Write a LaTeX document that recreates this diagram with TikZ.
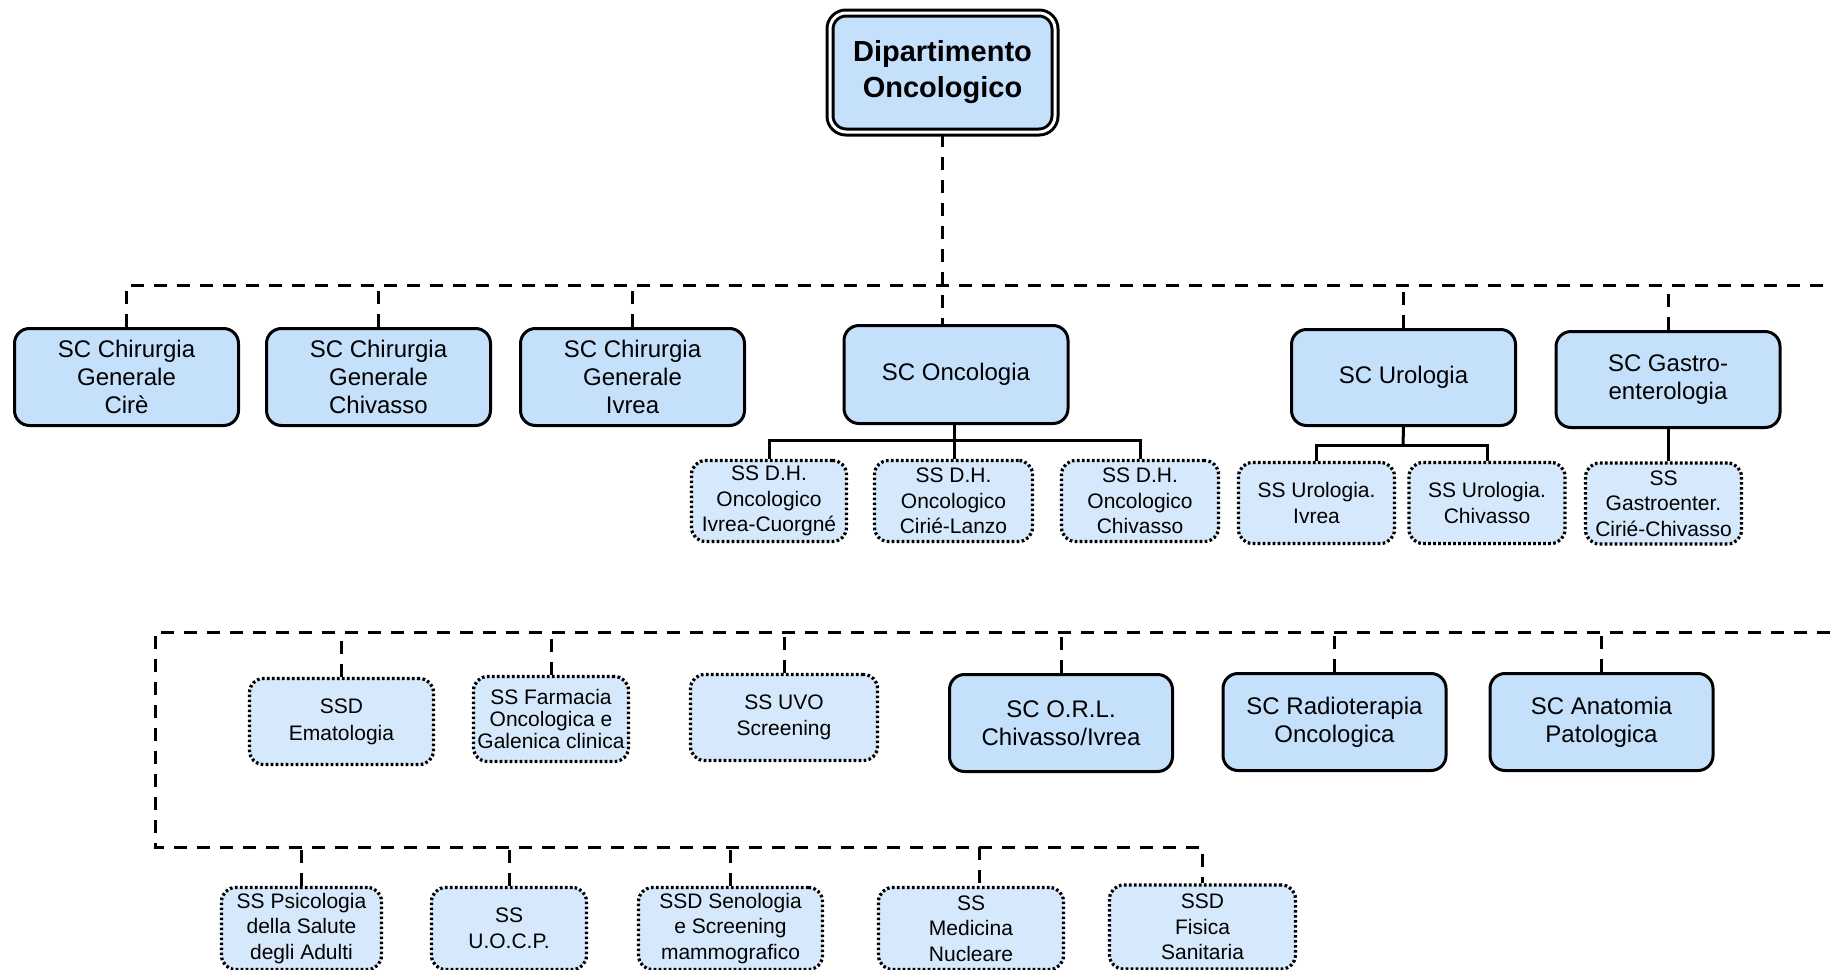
\documentclass[tikz,border=0pt]{standalone}
\usepackage{fontspec}
\setmainfont{Liberation Sans}
\definecolor{scfill}{RGB}{197,224,251}
\definecolor{ssfill}{RGB}{214,233,252}
\begin{document}
\begin{tikzpicture}[x=0.5pt,y=-0.5pt,
  scbox/.style={draw=black, line width=1.5pt, fill=scfill, rounded corners=7.5pt, align=center, inner sep=1pt, font=\fontsize{12}{14.2}\selectfont},
  topbox/.style={draw=black, line width=1.5pt, double=white, double distance=1.5pt, fill=scfill, rounded corners=8pt, align=center, inner sep=1pt, font=\fontsize{14.5}{18}\selectfont\bfseries},
  ssbox/.style={draw=black, line width=1.6pt, dash pattern=on 1.3pt off 1.2pt, fill=ssfill, rounded corners=7pt, align=center, inner sep=1pt, font=\fontsize{10.5}{12.8}\selectfont},
  bus/.style={line width=1.5pt, dash pattern=on 6.5pt off 5pt},
  link/.style={line width=1.5pt}
]
\useasboundingbox (0,0) rectangle (1830,969);

% top
\node[topbox, minimum width=112.5pt, minimum height=59.5pt] (top) at (942.5,72.5) {Dipartimento\\Oncologico};

% row 1 SC
\node[scbox, minimum width=112pt, minimum height=48.5pt] (c1) at (126.5,377) {SC Chirurgia\\Generale\\Cirè};
\node[scbox, minimum width=112pt, minimum height=48.5pt] (c2) at (378.5,377) {SC Chirurgia\\Generale\\Chivasso};
\node[scbox, minimum width=112pt, minimum height=48.5pt] (c3) at (632.5,377) {SC Chirurgia\\Generale\\Ivrea};
\node[scbox, minimum width=112pt, minimum height=49pt] (onc) at (956,374.5) {SC Oncologia};
\node[scbox, minimum width=112pt, minimum height=48pt] (uro) at (1403.5,377.5) {SC Urologia};
\node[scbox, minimum width=112pt, minimum height=48pt] (gas) at (1668,379.5) {SC Gastro-\\enterologia};

% row 1 subs
\node[ssbox, minimum width=77.5pt, minimum height=40.5pt] (dh1) at (769,501) {SS D.H.\\Oncologico\\Ivrea-Cuorgné};
\node[ssbox, minimum width=79pt, minimum height=40.5pt] (dh2) at (953.5,501) {SS D.H.\\Oncologico\\Cirié-Lanzo};
\node[ssbox, minimum width=78.5pt, minimum height=40.5pt] (dh3) at (1140,501) {SS D.H.\\Oncologico\\Chivasso};
\node[ssbox, minimum width=78pt, minimum height=40.5pt] (su1) at (1316.5,503) {SS Urologia.\\Ivrea};
\node[ssbox, minimum width=78pt, minimum height=40.5pt] (su2) at (1487,503) {SS Urologia.\\Chivasso};
\node[ssbox, minimum width=78pt, minimum height=40.5pt] (sg) at (1663.5,503.5) {SS\\Gastroenter.\\Cirié-Chivasso};

% row 2
\node[ssbox, font=\fontsize{10.5}{13.5}\selectfont, minimum width=92pt, minimum height=43pt] (em) at (341.5,721.5) {SSD\\Ematologia};
\node[ssbox, font=\fontsize{10.5}{11.2}\selectfont, minimum width=77.5pt, minimum height=42.5pt] (fa) at (551,719) {SS Farmacia\\Oncologica e\\Galenica clinica};
\node[ssbox, minimum width=93.5pt, minimum height=43pt] (uvo) at (784,717.5) {SS UVO\\Screening};
\node[scbox, minimum width=111.5pt, minimum height=48.5pt] (orl) at (1061,723) {SC O.R.L.\\Chivasso/Ivrea};
\node[scbox, minimum width=111.5pt, minimum height=48.5pt] (rad) at (1334.5,722) {SC Radioterapia\\Oncologica};
\node[scbox, minimum width=111.5pt, minimum height=48.5pt] (ana) at (1601.5,722) {SC Anatomia\\Patologica};

% bottom row
\node[ssbox, minimum width=80pt, minimum height=41pt] (ps) at (301.5,928.5) {SS Psicologia\\della Salute\\degli Adulti};
\node[ssbox, minimum width=77.5pt, minimum height=41pt] (uo) at (509,928.5) {SS\\U.O.C.P.};
\node[ssbox, minimum width=92pt, minimum height=41pt] (se) at (730.5,928.5) {SSD Senologia\\e Screening\\mammografico};
\node[ssbox, minimum width=92.5pt, minimum height=41pt] (me) at (971,928.5) {SS\\Medicina\\Nucleare};
\node[ssbox, minimum width=93pt, minimum height=42pt] (fi) at (1202.5,927) {SSD\\Fisica\\Sanitaria};

% row 1 bus
\coordinate (b1R) at (1830,285);
\draw[bus] (top.south) -- (top.south |- onc.north);
\draw[bus] (c1.north) |- (b1R);
\draw[bus] (c2.north) -- (c2.north |- b1R);
\draw[bus] (c3.north) -- (c3.north |- b1R);
\draw[bus] (uro.north) -- (uro.north |- b1R);
\draw[bus] (gas.north) -- (gas.north |- b1R);

% oncologia links
\coordinate (oj) at (954,440);
\draw[link] (oj |- onc.south) -- (oj |- dh2.north);
\draw[link] (dh1.north) |- (oj) -| (dh3.north);
% urologia links
\coordinate (uj) at (1403,445);
\draw[link] (uro.south) -- (uj);
\draw[link] (su1.north) |- (uj) -| (su2.north);
% gastro link
\draw[link] (gas.south) -- (gas.south |- sg.north);

% row 2 bus
\coordinate (b2R) at (1830,632);
\coordinate (b2L) at (155,632);
\coordinate (b3L) at (155,847);
\coordinate (medrop) at (979,847);
\draw[bus] (b2R) -- (b2L) -- (b3L) -| (fi.north);
\foreach \n in {em,fa,uvo,orl,rad,ana}{
  \draw[bus] (\n.north) -- (\n.north |- b2L);
}
\foreach \n in {ps,uo,se}{
  \draw[bus] (\n.north) -- (\n.north |- b3L);
}
\draw[bus] (medrop) -- (medrop |- me.north);
\end{tikzpicture}
\end{document}
